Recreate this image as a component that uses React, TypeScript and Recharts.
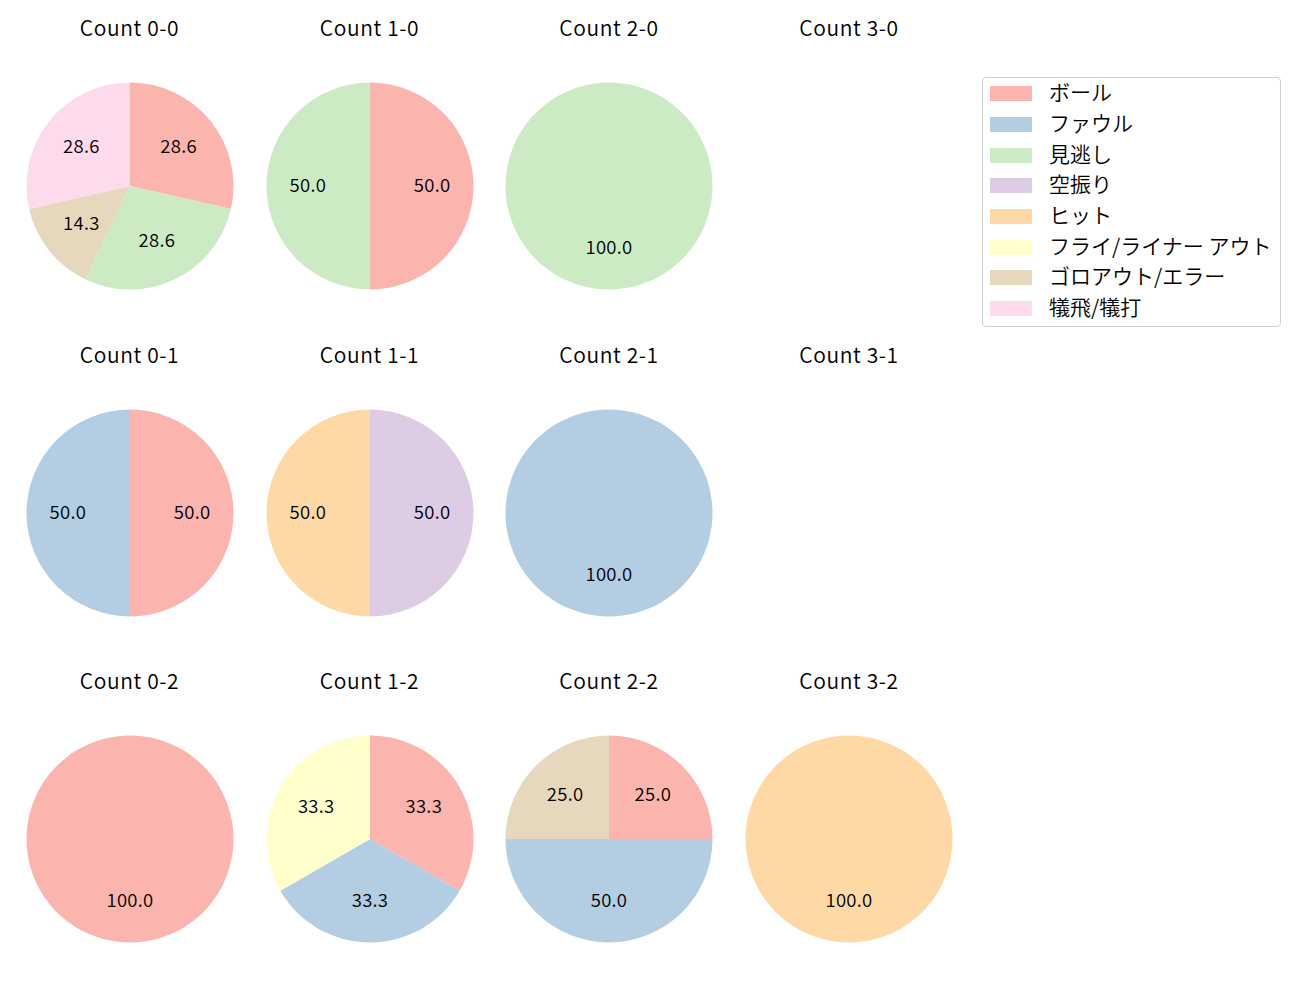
import React from "react";
import { Cell, Pie, PieChart } from "recharts";

const categories = [
  "ボール",
  "ファウル",
  "見逃し",
  "空振り",
  "ヒット",
  "フライ/ライナー アウト",
  "ゴロアウト/エラー",
  "犠飛/犠打",
];

const colors = ["#fbb4ae", "#b3cde3", "#ccebc5", "#decbe4", "#fed9a6", "#ffffcc", "#e5d8bd", "#fddaec"];

// pitch counts per category, in the order of `categories`
const count00 = [2, 0, 2, 0, 0, 0, 1, 2];
const count10 = [1, 0, 1, 0, 0, 0, 0, 0];
const count20 = [0, 0, 1, 0, 0, 0, 0, 0];
const count30 = [0, 0, 0, 0, 0, 0, 0, 0];
const count01 = [1, 1, 0, 0, 0, 0, 0, 0];
const count11 = [0, 0, 0, 1, 1, 0, 0, 0];
const count21 = [0, 1, 0, 0, 0, 0, 0, 0];
const count31 = [0, 0, 0, 0, 0, 0, 0, 0];
const count02 = [1, 0, 0, 0, 0, 0, 0, 0];
const count12 = [1, 1, 0, 0, 0, 1, 0, 0];
const count22 = [1, 2, 0, 0, 0, 0, 1, 0];
const count32 = [0, 0, 0, 0, 1, 0, 0, 0];

const panels = [
  { title: "Count 0-0", values: count00 },
  { title: "Count 1-0", values: count10 },
  { title: "Count 2-0", values: count20 },
  { title: "Count 3-0", values: count30 },
  { title: "Count 0-1", values: count01 },
  { title: "Count 1-1", values: count11 },
  { title: "Count 2-1", values: count21 },
  { title: "Count 3-1", values: count31 },
  { title: "Count 0-2", values: count02 },
  { title: "Count 1-2", values: count12 },
  { title: "Count 2-2", values: count22 },
  { title: "Count 3-2", values: count32 },
];

const FONT = '"Noto Sans CJK JP", "Noto Sans", sans-serif';
const WEIGHT = 350;
const RAD = Math.PI / 180;
const R = 103.5;
const colX = [129.5, 369.5, 609, 849];
const rowY = [186, 512.5, 839];
const titleY = [29, 356, 682];

const renderLabel = (props: any) => {
  const { cx, cy, midAngle, outerRadius, percent } = props;
  const r = outerRadius * 0.6;
  const x = cx + r * Math.cos(-midAngle * RAD);
  const y = cy + r * Math.sin(-midAngle * RAD) - 2.5;
  return (
    <text
      x={x}
      y={y}
      textAnchor="middle"
      dominantBaseline="central"
      fontSize={18.5}
      fontWeight={WEIGHT}
      letterSpacing={0.3}
      fill="#000"
      fontFamily={FONT}
    >
      {(percent * 100).toFixed(1)}
    </text>
  );
};

function Panel({ idx }: { idx: number }) {
  const p = panels[idx];
  const col = idx % 4;
  const row = Math.floor(idx / 4);
  const cx = colX[col];
  const cy = rowY[row];
  const data = categories
    .map((name, i) => ({ name, value: p.values[i], color: colors[i] }))
    .filter((d) => d.value > 0);
  return (
    <>
      <div
        style={{
          position: "absolute",
          left: cx - 100,
          top: titleY[row] - 17,
          width: 200,
          textAlign: "center",
          fontSize: 21,
          fontWeight: WEIGHT,
          letterSpacing: 0.6,
          lineHeight: "30px",
          fontFamily: FONT,
          color: "#000",
        }}
      >
        {p.title}
      </div>
      {data.length > 0 && (
        <div style={{ position: "absolute", left: cx - 120, top: cy - 120 }}>
          <PieChart width={240} height={240} margin={{ top: 0, right: 0, bottom: 0, left: 0 }}>
            <Pie
              data={data}
              dataKey="value"
              nameKey="name"
              cx={120}
              cy={120}
              outerRadius={R}
              startAngle={90}
              endAngle={-270}
              stroke="none"
              label={renderLabel}
              labelLine={false}
              isAnimationActive={false}
            >
              {data.map((d) => (
                <Cell key={d.name} fill={d.color} />
              ))}
            </Pie>
          </PieChart>
        </div>
      )}
    </>
  );
}

export default function App() {
  return (
    <div style={{ position: "absolute", left: 0, top: 0, width: 1300, height: 1000, background: "#fff" }}>
      {panels.map((_, i) => (
        <Panel key={i} idx={i} />
      ))}
      <div
        style={{
          position: "absolute",
          left: 982,
          top: 77,
          width: 297,
          height: 248,
          border: "1px solid #d0d0d0",
          borderRadius: 4,
          fontFamily: FONT,
          fontSize: 21,
          fontWeight: WEIGHT,
        }}
      >
        {categories.map((c, i) => (
          <div
            key={c}
            style={{ position: "absolute", left: 7, top: 15.7 + i * 30.7 - 15, height: 30, display: "flex", alignItems: "center" }}
          >
            <div style={{ width: 42, height: 15, background: colors[i] }} />
            <span style={{ marginLeft: 17, lineHeight: "30px", whiteSpace: "nowrap", position: "relative", top: -2.5 }}>
              {c}
            </span>
          </div>
        ))}
      </div>
    </div>
  );
}
